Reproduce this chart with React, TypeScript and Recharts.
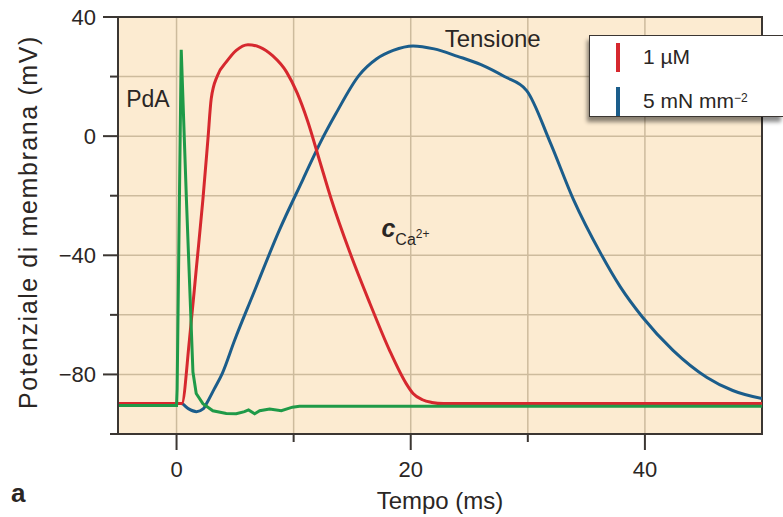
import React from 'react';
import {
  LineChart,
  Line,
  XAxis,
  YAxis,
  CartesianGrid,
  ReferenceArea,
  ReferenceDot,
  Legend,
  Label,
  Customized,
} from 'recharts';

const FONT = '"Liberation Sans", Arial, Helvetica, sans-serif';
const INK = '#2a2624';
const FRAME = '#3b3632';
const GRID = '#cdbb9d';
const BG = '#fcebd1';
const RED = '#d6282e';
const BLUE = '#1b5d8b';
const GREEN = '#1f9a48';

// Axis ticks
const xTicks = [0, 10, 20, 30, 40];
const xLabeledTicks = [0, 20, 40];
const yTicks = [-100, -80, -60, -40, -20, 0, 20, 40];
const yLabeledTicks = [-80, -40, 0, 40];

// PdA (action potential, green)
const pdaTime = [-5, 0, 0.05, 0.4, 0.85, 1.4, 1.68, 2.25, 3.1, 4.25, 5.1, 5.8, 6.15, 6.67, 7.1, 7.95, 8.95, 9.9, 10.5, 20, 30, 40, 50];
const pdaValue = [-90.4, -90.4, -85, 29, -22, -79.2, -86.4, -89.8, -92.2, -93.1, -93.2, -92.5, -91.9, -93.2, -92.2, -91.6, -92.2, -91, -90.7, -90.7, -90.7, -90.7, -90.7];

// Calcium concentration (red)
const caTime = [-5, 0.45, 1.1, 1.7, 2.25, 2.68, 2.96, 3.5, 4.25, 5.1, 6.1, 7.1, 8.2, 9.4, 10.3, 11.2, 12.2, 13.2, 14.8, 16.5, 18.2, 19.6, 20.2, 21, 21.8, 22.8, 50];
const caValue = [-89.8, -89.8, -68.5, -44, -21.3, -1, 12.5, 20.4, 24.9, 28.8, 30.7, 29.9, 27, 21.5, 14.5, 5, -8, -21, -39, -56, -72, -83, -86.4, -88.5, -89.4, -89.8, -89.8];

// Tension (blue)
const tensionTime = [-5, 0.4, 1.0, 1.7, 2.3, 2.6, 3.2, 3.9, 4.96, 6.5, 8.8, 10.8, 12.3, 13.6, 15.6, 17.1, 18.5, 20.2, 22, 24, 26, 28, 29.9, 31.9, 33.9, 36.2, 37.9, 39.8, 42.4, 45.3, 47.5, 50];
const tensionValue = [-89.8, -89.8, -91.5, -92.5, -91.5, -89.5, -85, -79.7, -68.5, -53.5, -31.4, -14.5, -2, 7.5, 20.5, 26, 28.8, 30.3, 29.3, 26.8, 24, 20, 15.3, -2, -21.3, -39.2, -50.6, -60.8, -71.9, -81, -85.4, -88.1];

const toPoints = (t: number[], v: number[]) => t.map((x, i) => ({ t: x, v: v[i] }));
const pdaData = toPoints(pdaTime, pdaValue);
const caData = toPoints(caTime, caValue);
const tensionData = toPoints(tensionTime, tensionValue);

const fmt = (v: number) => (v < 0 ? '\u2212' + Math.abs(v) : String(v));

const XTick = (props: any) => {
  const { x, y, payload } = props;
  const major = xLabeledTicks.includes(payload.value);
  return (
    <g>
      <line x1={x} x2={x} y1={y} y2={y + (major ? 16 : 8)} stroke={FRAME} strokeWidth={2} />
      {major && (
        <text x={x} y={y + 43} textAnchor="middle" fontSize={22} fontFamily={FONT} fill={INK}>
          {fmt(payload.value)}
        </text>
      )}
    </g>
  );
};

const YTick = (props: any) => {
  const { x, y, payload } = props;
  const major = yLabeledTicks.includes(payload.value);
  return (
    <g>
      <line x1={x - (major ? 15 : 8)} x2={x} y1={y} y2={y} stroke={FRAME} strokeWidth={2} />
      {major && (
        <text x={x - 22} y={y + 8} textAnchor="end" fontSize={22} fontFamily={FONT} fill={INK}>
          {fmt(payload.value)}
        </text>
      )}
    </g>
  );
};

const legendItems = [
  { color: RED, main: '1 \u00b5M', sup: '' },
  { color: BLUE, main: '5 mN mm', sup: '\u22122' },
];

const LegendBox = () => (
  <div
    style={{
      width: 194,
      height: 82,
      boxSizing: 'border-box',
      background: '#ffffff',
      borderTop: `1.5px solid ${FRAME}`,
      borderLeft: `1.5px solid ${FRAME}`,
      borderBottom: `1.5px solid ${FRAME}`,
      boxShadow: '-2px 5px 4px rgba(0,0,0,0.45)',
      position: 'relative',
      fontFamily: FONT,
      color: INK,
    }}
  >
    {legendItems.map((it, i) => (
      <div key={i} style={{ position: 'absolute', left: 0, top: 7 + i * 44, height: 29, width: 190 }}>
        <div style={{ position: 'absolute', left: 26, top: 0, width: 4, height: 29, background: it.color }} />
        <div style={{ position: 'absolute', left: 53, top: 2, fontSize: 21, lineHeight: '24px', whiteSpace: 'nowrap' }}>
          {it.main}
          {it.sup && <sup style={{ fontSize: 12, verticalAlign: 'top', position: 'relative', top: -3 }}>{it.sup}</sup>}
        </div>
      </div>
    ))}
  </div>
);

const CaLabel = (props: any) => {
  const { viewBox } = props;
  return (
    <text x={viewBox.x} y={viewBox.y} fontFamily={FONT} fill={INK}>
      <tspan fontSize={25} fontWeight="bold" fontStyle="italic">c</tspan>
      <tspan fontSize={16} dy={8}>Ca</tspan>
      <tspan fontSize={12} dy={-7}>2+</tspan>
    </text>
  );
};

const PanelLetter = () => (
  <text x={11} y={502} fontSize={26} fontWeight="bold" fontFamily={FONT} fill={INK}>
    a
  </text>
);

export default function App() {
  return (
    <div style={{ position: 'fixed', left: 0, top: 0, width: 783, height: 517, overflow: 'hidden', background: '#fff' }}>
      <LineChart width={783} height={517} margin={{ top: 17, right: 21, left: 0, bottom: 0 }}>
        <CartesianGrid fill={BG} stroke={GRID} strokeWidth={1.5} />
        <XAxis
          dataKey="t"
          type="number"
          domain={[-5, 50]}
          ticks={xTicks}
          allowDataOverflow
          height={83}
          tickSize={0}
          tickMargin={0}
          tickLine={false}
          tick={<XTick />}
          axisLine={{ stroke: FRAME, strokeWidth: 2 }}
          interval={0}
        >
          <Label
            content={() => (
              <text x={440} y={509} textAnchor="middle" fontSize={24} fontFamily={FONT} fill={INK}>
                Tempo (ms)
              </text>
            )}
          />
        </XAxis>
        <YAxis
          type="number"
          domain={[-100, 40]}
          ticks={yTicks}
          allowDataOverflow
          width={118}
          tickSize={0}
          tickMargin={0}
          tickLine={false}
          tick={<YTick />}
          axisLine={{ stroke: FRAME, strokeWidth: 2 }}
          interval={0}
        >
          <Label
            content={() => (
              <text
                transform="translate(37, 222) rotate(-90)"
                textAnchor="middle"
                fontSize={25}
                letterSpacing={1.6}
                fontFamily={FONT}
                fill={INK}
              >
                Potenziale di membrana (mV)
              </text>
            )}
          />
        </YAxis>
        <Line data={tensionData} dataKey="v" type="monotone" stroke={BLUE} strokeWidth={3} dot={false} isAnimationActive={false} />
        <Line data={caData} dataKey="v" type="monotone" stroke={RED} strokeWidth={3} dot={false} isAnimationActive={false} />
        <Line data={pdaData} dataKey="v" type="linear" stroke={GREEN} strokeWidth={3} dot={false} isAnimationActive={false} />
        <ReferenceArea x1={-5} x2={50} y1={-100} y2={40} fill="none" stroke={FRAME} strokeWidth={2} />
        <ReferenceDot
          x={-2.44}
          y={12.5}
          r={0}
          fill="none"
          stroke="none"
          label={{ value: 'PdA', position: 'center', fontSize: 23, fontFamily: FONT, fill: INK }}
        />
        <ReferenceDot
          x={27}
          y={32.8}
          r={0}
          fill="none"
          stroke="none"
          label={{ value: 'Tensione', position: 'center', fontSize: 24, fontFamily: FONT, fill: INK }}
        />
        <ReferenceDot x={17.5} y={-33.8} r={0} fill="none" stroke="none" label={<CaLabel />} />
        <Legend
          layout="vertical"
          align="center"
          verticalAlign="middle"
          wrapperStyle={{ left: 589, top: 35, width: 194 }}
          content={() => <LegendBox />}
        />
        <Customized component={PanelLetter} />
      </LineChart>
    </div>
  );
}
